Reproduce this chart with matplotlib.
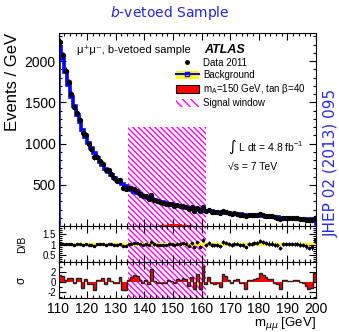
import numpy as np
import matplotlib.pyplot as plt
from matplotlib.patches import Rectangle, Patch
from matplotlib.lines import Line2D
from matplotlib.ticker import MultipleLocator

plt.rcParams['font.family'] = ['Liberation Sans', 'DejaVu Sans']
plt.rcParams['hatch.linewidth'] = 1.0

# binning: 1 GeV bins from 110 to 200 GeV
m_lo, m_hi = 110, 200

# background expectation, events / GeV
bkg = [2170, 2020, 1870, 1710, 1570, 1450, 1350, 1255, 1165, 1085,
       1010, 945, 885, 830, 780, 735, 695, 655, 620, 588,
       558, 530, 504, 480, 458, 437, 418, 400, 383, 368,
       354, 340, 328, 316, 305, 295, 285, 276, 267, 259,
       251, 244, 237, 230, 224, 218, 212, 207, 202, 197,
       192, 187, 182, 178, 174, 170, 166, 162, 158, 155,
       151, 148, 145, 142, 139, 136, 133, 130, 127, 124,
       121, 118, 115, 112, 110, 107, 105, 102, 100, 98,
       96, 94, 92, 90, 88, 86, 84, 82, 80, 78]

# significance of data - background per bin (sigma panel)
pull = [1.3, 1.1, 0.3, 0.8, 0.8, -0.3, 0.7, 0.7, -1.2, 0.5,
        -0.5, -0.4, -1.7, 0.3, 0.3, 0.8, -0.5, 0.7, 0.2, -0.3,
        -0.3, 1.0, -1.7, -1.6, 0.3, 1.0, 1.4, 1.2, 0.3, -0.3,
        0.3, -0.5, 2.5, 0.1, -0.2, -0.3, -0.2, -0.3, 0.3, 0.2,
        -0.3, 0.5, 0.4, 0.8, 0.6, -0.8, 1.0, -1.5, 1.5, -1.5,
        3.2, -0.5, 1.0, -0.3, -0.4, -0.3, -1.0, 1.5, 1.2, 0.3,
        -0.3, 0.3, 0.5, -0.3, -0.2, -1.5, 0.3, 0.3, 0.6, 0.8,
        1.8, 1.3, 1.0, 0.5, 0.5, -0.3, -0.4, -1.5, 0.3, 0.3,
        0.1, 0.1, 0.3, 0.3, 0.0, -0.3, -0.8, -1.5, -1.2, 1.7]

# signal mA=150 GeV, tan beta=40 (bins starting at 143 GeV)
sig_lo = 143
sig = [2, 4, 7, 11, 16, 21, 25, 27, 25, 21, 16, 11, 7, 4, 2]

# signal window and background uncertainty
win_lo, win_hi, win_top = 134.4, 161.5, 1200
bkg_unc = 0.07

bkg = np.array(bkg, float)
pull = np.array(pull)
edges = np.arange(m_lo, m_hi + 1)
centers = edges[:-1] + 0.5
data = bkg + pull * np.sqrt(bkg)
derr = np.sqrt(data)
ratio = data / bkg
sig_edges = np.arange(sig_lo, sig_lo + len(sig) + 1)

blue = '#0000ff'
magenta = '#ff00ff'
hatch = '\\' * 6

fig = plt.figure(figsize=(3.39, 3.32), dpi=100)
L, W = 58.5 / 339, (316 - 58.5) / 339
ax = fig.add_axes([L, 1 - 226 / 332, W, 193 / 332])
axr = fig.add_axes([L, 1 - 262 / 332, W, 36 / 332], sharex=ax)
axs = fig.add_axes([L, 1 - 298 / 332, W, 36 / 332], sharex=ax)

# main panel
ax.add_patch(Rectangle((win_lo, 0), win_hi - win_lo, win_top, fill=False,
                       edgecolor=magenta, lw=0, hatch=hatch, zorder=0))
ax.stairs(bkg, edges, color=blue, lw=2.6, zorder=2)
ax.stairs(sig, sig_edges, fill=True, color='red', zorder=3)
ax.errorbar(centers, data, yerr=derr, fmt='o', ms=2.8, color='k',
            elinewidth=0.8, capsize=0, zorder=4)
ax.set_xlim(m_lo, m_hi)
ax.set_ylim(0, 2340)
ax.set_yticks([500, 1000, 1500, 2000])
ax.yaxis.set_minor_locator(MultipleLocator(100))
ax.set_ylabel('Events / GeV', fontsize=12, loc='top')
ax.yaxis.set_label_coords(-0.15, 1)

ax.text(0.072, 0.912, 'μ⁺μ⁻, b-vetoed sample', transform=ax.transAxes,
        fontsize=8, va='center')
ax.text(0.565, 0.912, 'ATLAS', transform=ax.transAxes, fontsize=9,
        fontweight='bold', fontstyle='italic', va='center')
ax.text(0.658, 0.409, r'∫ L dt = 4.8 fb$\mathregular{^{-1}}$',
        transform=ax.transAxes, fontsize=7.5, va='center')
ax.text(0.658, 0.306, '√s = 7 TeV', transform=ax.transAxes,
        fontsize=7.5, va='center')

handles = [Line2D([], [], marker='o', color='k', ls='none', ms=2.5),
           (Patch(facecolor='yellow'),
            Line2D([], [], color=blue, lw=1.5, marker='s', mfc='none',
                   mec=blue, ms=3)),
           Patch(facecolor='red', edgecolor='k', lw=0.8),
           Patch(facecolor='none', edgecolor=magenta, hatch='\\' * 4, lw=0)]
labels = ['Data 2011', 'Background',
          r'm$\mathregular{_A}$=150 GeV, tan β=40', 'Signal window']
ax.legend(handles, labels, loc='upper left', bbox_to_anchor=(0.455, 0.87),
          frameon=False, fontsize=7, handlelength=2.4, handleheight=0.9,
          labelspacing=0.2, handletextpad=0.4, borderpad=0, borderaxespad=0)

# ratio panel
axr.axvspan(win_lo, win_hi, fill=False, edgecolor=magenta, lw=0,
            hatch=hatch, zorder=0)
axr.fill_between(edges, 1 - bkg_unc, 1 + bkg_unc, color='yellow', lw=0,
                 zorder=1)
axr.errorbar(centers, ratio, xerr=0.5, yerr=derr / bkg, fmt='o', ms=1.5,
             color='k', elinewidth=0.7, capsize=0, zorder=3)
axr.set_ylim(0.17, 1.88)
axr.set_yticks([0.5, 1, 1.5], ['0.5', '1', '1.5'])
axr.yaxis.set_minor_locator(MultipleLocator(0.1))
axr.set_ylabel('D/B', fontsize=7.5)
axr.yaxis.set_label_coords(-0.12, 0.5)

# sigma panel
axs.axvspan(win_lo, win_hi, fill=False, edgecolor=magenta, lw=0,
            hatch=hatch, zorder=0)
axs.stairs(pull, edges, baseline=0, fill=True, color='red', zorder=2)
axs.stairs(pull, edges, baseline=0, color='#222222', lw=1.0, zorder=3)
axs.set_ylim(-3.3, 3.9)
axs.set_yticks([-2, 0, 2], ['-2', '0', '2'])
axs.yaxis.set_minor_locator(MultipleLocator(1))
axs.set_ylabel('σ', fontsize=8.5)
axs.yaxis.set_label_coords(-0.12, 0.5)
axs.set_xlabel(r'm$_{\mu\mu}$ [GeV]', fontsize=9.5, loc='right')
axs.xaxis.set_label_coords(1.0, -0.47)

for a in (ax, axr, axs):
    a.xaxis.set_major_locator(MultipleLocator(10))
    a.xaxis.set_minor_locator(MultipleLocator(2))
    a.tick_params(which='both', direction='in', top=True, right=True,
                  labelbottom=False, width=0.8)
    a.tick_params(which='major', length=5)
    a.tick_params(which='minor', length=2.5)
    for s in a.spines.values():
        s.set_linewidth(0.8)
ax.tick_params(axis='y', labelsize=10, pad=2)
axr.tick_params(axis='y', labelsize=7, pad=2)
axs.tick_params(axis='y', labelsize=7, pad=2)
axs.tick_params(axis='x', labelbottom=True, labelsize=10, pad=3)

fig.text(0.5, 1 - 13 / 332, r'$b$-vetoed Sample', family='DejaVu Sans',
         fontsize=10, color='#2525d8', ha='center', va='center')
fig.text(331 / 339, 1 - 163 / 332, 'JHEP 02 (2013) 095', family='DejaVu Sans',
         fontsize=11, color='#2929e0', rotation=90, ha='center', va='center')

fig.savefig('out.png', dpi=100)
